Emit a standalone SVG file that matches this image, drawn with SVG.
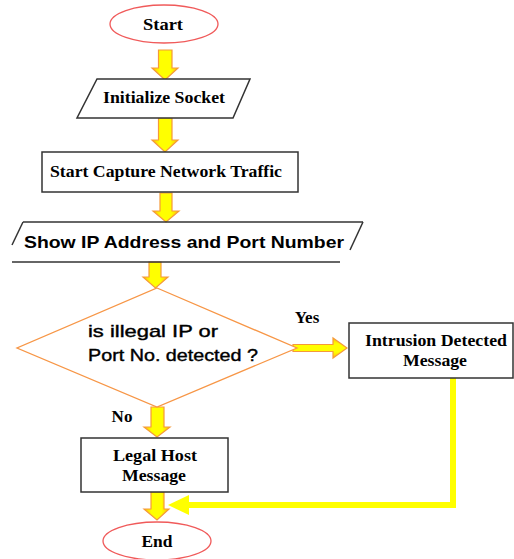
<svg xmlns="http://www.w3.org/2000/svg" width="514" height="559" viewBox="0 0 514 559">
<defs>
<linearGradient id="ag" x1="0" y1="0" x2="1" y2="0">
<stop offset="0" stop-color="#ffc000"/>
<stop offset="0.3" stop-color="#ffff00"/>
<stop offset="0.7" stop-color="#ffff00"/>
<stop offset="1" stop-color="#ffc000"/>
</linearGradient>
<linearGradient id="agh" x1="0" y1="0" x2="0" y2="1">
<stop offset="0" stop-color="#ffc000"/>
<stop offset="0.3" stop-color="#ffff00"/>
<stop offset="0.7" stop-color="#ffff00"/>
<stop offset="1" stop-color="#ffc000"/>
</linearGradient>
</defs>
<style>
.bg{fill:#ffffff}
.ell{fill:#ffffff;stroke:#f05a5a;stroke-width:1.3}
.box{fill:#ffffff;stroke:#333333;stroke-width:1.5}
.ln{fill:none;stroke:#333333;stroke-width:1.5}
.dia{fill:#ffffff;stroke:#f79646;stroke-width:1.3}
.arr{fill:url(#ag);stroke:#f59a3a;stroke-width:1.2}
.arrh{fill:url(#agh);stroke:#f59a3a;stroke-width:1.2}
.fb{fill:none;stroke:#ffff00;stroke-width:6}
.fbh{fill:#ffff00;stroke:none}
.st{font-family:"Liberation Serif","Times New Roman",serif;font-weight:bold;font-size:17px;fill:#000;text-anchor:middle}
.ss{font-family:"Liberation Sans",Arial,sans-serif;font-size:17px;fill:#000;stroke:#000;stroke-width:0.4;text-anchor:middle}
.ssb{font-family:"Liberation Sans",Arial,sans-serif;font-weight:bold;font-size:17px;fill:#000;text-anchor:middle}
</style>
<rect class="bg" x="0" y="0" width="514" height="559"/>

<g id="connectors">
<path id="a1" class="arr" d="M158.5,50 H172 V68 H178 L165,80 L152,68 H158.5 Z"/>
<path id="a2" class="arr" d="M158.5,118 H172 V140 H178 L165,152 L152,140 H158.5 Z"/>
<path id="a3" class="arr" d="M160,193 H172 V211 H179 L166,222 L153,211 H160 Z"/>
<path id="a4" class="arr" d="M149,262 H161 V277 H168 L155.5,288 L143,277 H149 Z"/>
<path id="a5" class="arr" d="M151,407 H164 V427 H170 L157,437 L144,427 H151 Z"/>
<path id="a6" class="arr" d="M151,492 H164 V509 H169 L157,520 L144,509 H151 Z"/>
<path id="ayes" class="arrh" d="M293,344.5 H333 V338 L347,348 L333,358 V351.5 H293 Z"/>
<polyline id="afb" class="fb" points="453,378 453,505 188,505"/>
<polygon class="fbh" points="168,505 189,495 189,515"/>
<text class="st" x="307" y="323">Yes</text>
<text class="st" x="122" y="422">No</text>
</g>

<g id="start">
<ellipse class="ell" cx="164" cy="24" rx="54" ry="19"/>
<text class="st" x="163" y="30" textLength="40" lengthAdjust="spacingAndGlyphs">Start</text>
</g>

<g id="init">
<polygon class="box" points="97,79 250,79 233,118 77,118"/>
<text class="st" x="164" y="103" textLength="122" lengthAdjust="spacingAndGlyphs">Initialize Socket</text>
</g>

<g id="capture">
<rect class="box" x="42" y="152" width="256" height="40"/>
<text class="st" x="166" y="177" textLength="232" lengthAdjust="spacingAndGlyphs">Start Capture Network Traffic</text>
</g>

<g id="show">
<line class="ln" x1="23" y1="222" x2="363" y2="222"/>
<line class="ln" x1="23" y1="222" x2="12" y2="245"/>
<line class="ln" x1="363" y1="222" x2="350" y2="250"/>
<line class="ln" x1="12" y1="262" x2="340" y2="262"/>
<text class="ssb" x="184" y="248" textLength="320" lengthAdjust="spacingAndGlyphs">Show IP Address and Port Number</text>
</g>

<g id="decision">
<polygon class="dia" points="157,288 297,348 157,407 17,348"/>
<text class="ss" x="153" y="337" textLength="130" lengthAdjust="spacingAndGlyphs">is illegal IP or</text>
<text class="ss" x="173" y="361" textLength="170" lengthAdjust="spacingAndGlyphs">Port No. detected ?</text>
</g>

<g id="intrusion">
<rect class="box" x="349" y="323" width="164" height="55"/>
<text class="st" x="436" y="346" textLength="142" lengthAdjust="spacingAndGlyphs">Intrusion Detected</text>
<text class="st" x="435" y="366" textLength="64" lengthAdjust="spacingAndGlyphs">Message</text>
</g>

<g id="legal">
<rect class="box" x="81" y="438" width="147" height="54"/>
<text class="st" x="155" y="461" textLength="84" lengthAdjust="spacingAndGlyphs">Legal Host</text>
<text class="st" x="154" y="481" textLength="64" lengthAdjust="spacingAndGlyphs">Message</text>
</g>

<g id="end">
<ellipse class="ell" cx="157" cy="541" rx="54" ry="19"/>
<text class="st" x="157" y="547" textLength="31" lengthAdjust="spacingAndGlyphs">End</text>
</g>
</svg>
